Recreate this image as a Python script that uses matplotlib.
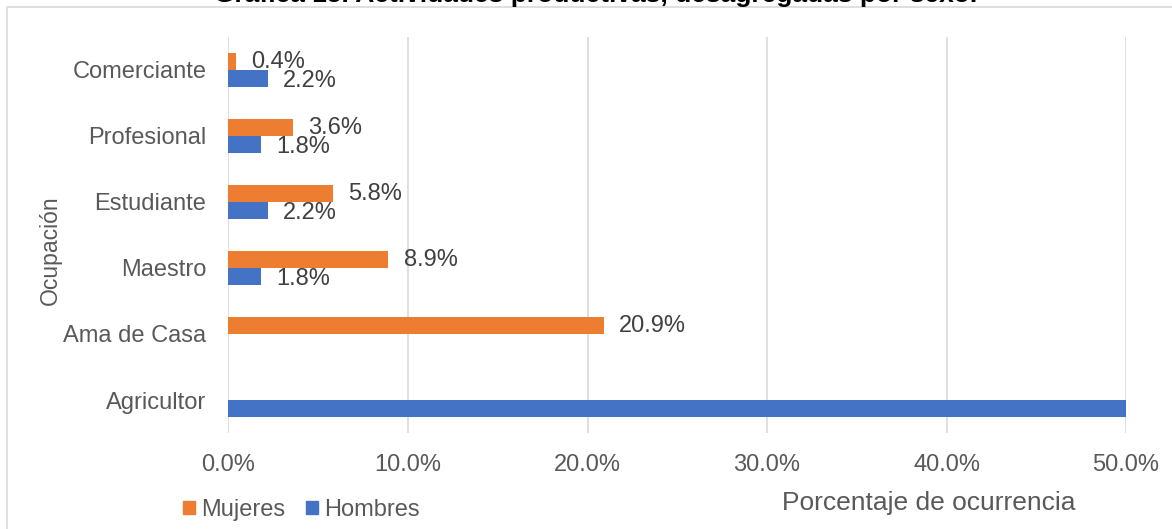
import matplotlib.pyplot as plt
import matplotlib.transforms as mtransforms
import numpy as np
from matplotlib.patches import Patch, Rectangle

plt.rcParams['font.family'] = ['Liberation Sans', 'DejaVu Sans']

# data
ocupaciones = ['Agricultor', 'Ama de Casa', 'Maestro', 'Estudiante', 'Profesional', 'Comerciante']
mujeres = [0.0, 20.9, 8.9, 5.8, 3.6, 0.4]
hombres = [50.0, 0.0, 1.8, 2.2, 1.8, 2.2]
x_ticks = [0, 10, 20, 30, 40, 50]
x_max = 50

c_muj = '#ED7D31'
c_hom = '#4472C4'
gris = '#595959'

W, H = 1172, 529
fig = plt.figure(figsize=(W / 100, H / 100), dpi=100)

# outer chart border (cut off at the right and bottom in the reference)
fig.patches.append(Rectangle((7 / W, -0.1), 1.2, 1 - 7 / H + 0.1, transform=fig.transFigure,
                             fill=False, edgecolor='#D9D9D9', linewidth=1.2))

ax = fig.add_axes([228.5 / W, 1 - 433 / H, (1126 - 228.5) / W, (433 - 37) / H])

y = np.arange(len(ocupaciones))
h = 0.257
ax.barh(y + h / 2, mujeres, height=h, color=c_muj, label='Mujeres', zorder=3)
ax.barh(y - h / 2, hombres, height=h, color=c_hom, label='Hombres', zorder=3)

# data labels: zeros are hidden, and a bar reaching the axis end has no visible label
off_m = mtransforms.offset_copy(ax.transData, fig=fig, x=11, y=0, units='points')
off_h = mtransforms.offset_copy(ax.transData, fig=fig, x=11, y=-2, units='points')
for yi, v in zip(y, mujeres):
    if 0 < v < x_max:
        ax.text(v, yi + h / 2, f'{v:.1f}%', transform=off_m, va='center', ha='left',
                fontsize=17, color='#404040', zorder=4)
for yi, v in zip(y, hombres):
    if 0 < v < x_max:
        ax.text(v, yi - h / 2, f'{v:.1f}%', transform=off_h, va='center', ha='left',
                fontsize=17, color='#404040', zorder=4)

ax.set_xlim(0, x_max)
ax.set_ylim(-0.5, len(ocupaciones) - 0.5)
ax.set_xticks(x_ticks)
ax.set_xticklabels([f'{t:.1f}%' for t in x_ticks])
ax.set_yticks(y)
ax.set_yticklabels(ocupaciones)
ax.tick_params(axis='both', length=0, labelsize=17, labelcolor=gris)
ax.tick_params(axis='x', pad=15)
ax.tick_params(axis='y', pad=16)
ax.grid(axis='x', color='#D9D9D9', linewidth=1.2, zorder=0)
for s in ax.spines.values():
    s.set_visible(False)

# axis titles placed as in the reference
fig.text(929 / W, 1 - 503 / H, 'Porcentaje de ocurrencia', ha='center', va='center',
         fontsize=19, color=gris)
fig.text(50 / W, 1 - 250 / H, 'Ocupación', ha='center', va='center', rotation=90,
         fontsize=16.5, color=gris)

# title, cut off at the top edge as in the reference
fig.text(596 / W, 1 + 5 / H, 'Gráfica 15. Actividades productivas, desagregadas por sexo.',
         ha='center', va='center', fontsize=19, fontweight='bold', color='black')

handles = [Patch(color=c_muj), Patch(color=c_hom)]
fig.legend(handles, ['Mujeres', 'Hombres'], loc='center left',
           bbox_to_anchor=(183 / W, 1 - 510 / H), frameon=False, fontsize=17,
           handlelength=0.5, handleheight=0.5, handletextpad=0.25, columnspacing=0.9,
           ncol=2, borderpad=0, borderaxespad=0, labelcolor=gris)

fig.savefig('out.png', dpi=100)
